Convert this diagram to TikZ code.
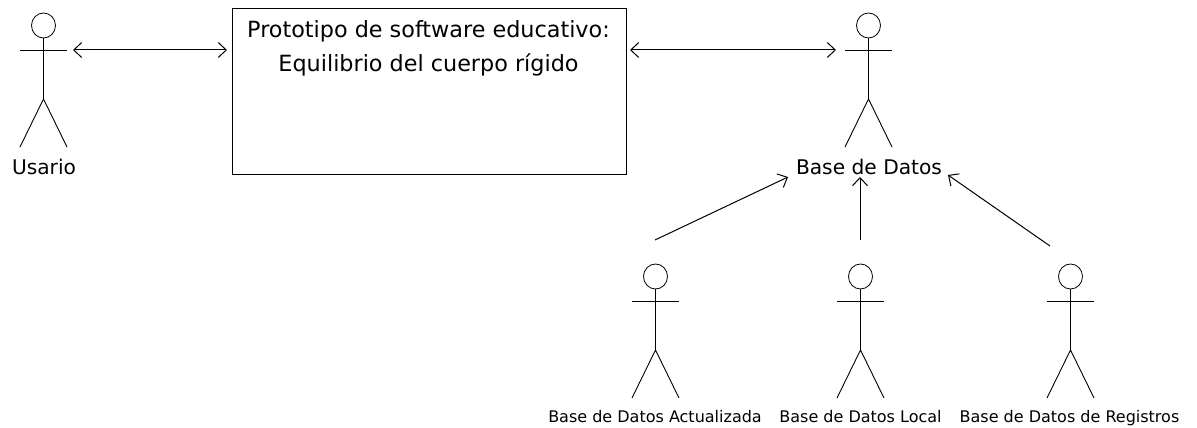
\documentclass[tikz,border=0pt]{standalone}
\usepackage{fontspec}
\setmainfont{DejaVu Sans}
\usetikzlibrary{arrows.meta,shapes.geometric}
\tikzset{
  line/.style={draw=black,line width=0.9pt},
  head/.style={draw=black,line width=0.8pt,ellipse,minimum width=24pt,minimum height=25pt,inner sep=0pt},
  biglabel/.style={font=\fontsize{20.2}{24}\selectfont,inner sep=0pt},
  titlelabel/.style={font=\fontsize{22.3}{26}\selectfont,inner sep=0pt},
  smalllabel/.style={font=\fontsize{16}{19}\selectfont,inner sep=0pt},
  conn/.style={line,line width=1pt,-{Straight Barb[length=8pt,width=15pt,line width=1pt]}},
  biconn/.style={line,line width=1pt,{Straight Barb[length=8pt,width=15pt,line width=1pt]}-{Straight Barb[length=8pt,width=15pt,line width=1pt]}},
}
\newcommand{\stickman}[3]{% name, x, top y
  \node[head] (#1h) at (#2,#3+12.5) {};
  \coordinate (#1n) at (#2,#3+25);
  \coordinate (#1la) at (#2-23.5,#3+37);
  \coordinate (#1ra) at (#2+23.5,#3+37);
  \coordinate (#1hip) at (#2,#3+86);
  \coordinate (#1lf) at (#2-23.5,#3+134);
  \coordinate (#1rf) at (#2+23.5,#3+134);
  \draw[line] (#1h.south) -- (#1hip);
  \draw[line] (#1la) -- (#1ra);
  \draw[line] (#1lf) -- (#1hip) -- (#1rf);
}
\begin{document}
\begin{tikzpicture}[x=1pt,y=-1pt]
\useasboundingbox (0,0) rectangle (1197,428);
\stickman{u}{43.5}{13}
\stickman{b}{868.5}{13}
\stickman{x}{655.5}{264}
\stickman{y}{860.5}{264}
\stickman{z}{1070.5}{264}
\node[draw=black,line width=1pt,minimum width=393.5pt,minimum height=165pt,inner sep=0pt] (box) at (429.25,91.5) {};
\node[titlelabel,anchor=base] (t1) at (428.5,37.5) {Prototipo de software educativo:};
\node[titlelabel,anchor=base] (t2) at (428.5,72) {Equilibrio del cuerpo rígido};
\node[biglabel,anchor=base] (lu) at (44,174) {Usario};
\node[biglabel,anchor=base] (lb) at (869,174) {Base de Datos};
\node[smalllabel,anchor=base] (lx) at (655,422) {Base de Datos Actualizada};
\node[smalllabel,anchor=base] (ly) at (860.5,422) {Base de Datos Local};
\node[smalllabel,anchor=base] (lz) at (1069.5,422) {Base de Datos de Registros};
\coordinate (a1) at (73,50);
\coordinate (a2) at (227,50);
\coordinate (a3) at (630,50);
\coordinate (a4) at (836,50);
\coordinate (c1) at (655,240);
\coordinate (d1) at (788,177);
\coordinate (c2) at (860,240);
\coordinate (d2) at (860,177);
\coordinate (c3) at (1050,246);
\coordinate (d3) at (948,175);
\draw[biconn] (a1) -- (a2);
\draw[biconn] (a3) -- (a4);
\draw[conn] (c1) -- (d1);
\draw[conn] (c2) -- (d2);
\draw[conn] (c3) -- (d3);
\end{tikzpicture}
\end{document}
